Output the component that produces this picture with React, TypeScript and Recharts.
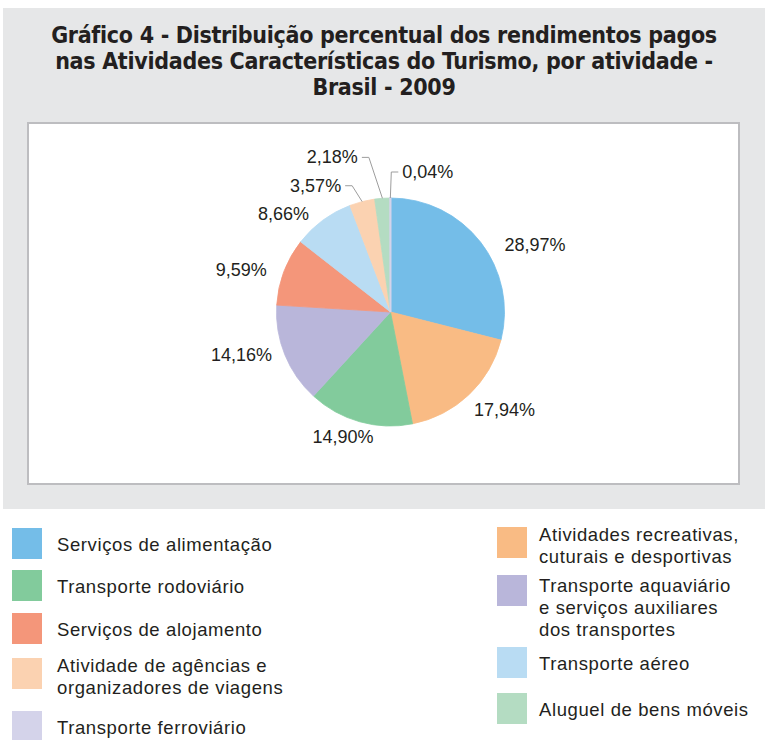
import { Cell, Pie, PieChart } from "recharts";

const categorias = [
  "Serviços de alimentação",
  "Atividades recreativas,\ncuturais e desportivas",
  "Transporte rodoviário",
  "Transporte aquaviário\ne serviços auxiliares\ndos transportes",
  "Serviços de alojamento",
  "Transporte aéreo",
  "Atividade de agências e\norganizadores de viagens",
  "Aluguel de bens móveis",
  "Transporte ferroviário",
];
const percentuais = [28.97, 17.94, 14.9, 14.16, 9.59, 8.66, 3.57, 2.18, 0.04];
const cores = ["#74bde8", "#f9bb84", "#82cb9c", "#b9b6da", "#f4967a", "#b9dcf3", "#fbd2b1", "#b4dcc2", "#d4d3ea"];
const tituloLinhas = [
  "Gráfico 4 - Distribuição percentual dos rendimentos pagos",
  "nas Atividades Características do Turismo, por atividade -",
  "Brasil - 2009",
];

// layout only: label nudges from the radial spot, legend item tops
const LABEL_SHIFT: [number, number][] = [
  [26, 25], [11, -11], [-7, -19], [-10, -13], [-9, 11], [-18, 23], [-1, 19], [-11, -5], [1, 10],
];
const LEGEND_TOP = [528, 527, 570, 575, 613, 647, 658, 693, 711];

const TEXT = "#231f20";
const FONT = '"Liberation Sans", Arial, sans-serif';
const RAD = Math.PI / 180;

const data = categorias.map((nome, i) => ({ nome, valor: percentuais[i] }));

const fmt = (v: number) => v.toFixed(2).replace(".", ",") + "%";

function renderLabel(props: any) {
  const { cx, cy, midAngle, outerRadius, index } = props;
  const v = percentuais[index];
  const cos = Math.cos(-midAngle * RAD);
  const sin = Math.sin(-midAngle * RAD);
  const r = outerRadius + 36;
  const [dx, dy] = LABEL_SHIFT[index];
  const x = cx + r * cos + dx;
  const y = cy + r * sin + dy;
  const style = { fontFamily: FONT, fontSize: 18, fill: TEXT };
  if (v >= 5) {
    return (
      <text key={index} x={x} y={y} textAnchor="middle" dominantBaseline="central" style={style}>
        {fmt(v)}
      </text>
    );
  }
  const sx = cx + outerRadius * cos;
  const sy = cy + outerRadius * sin;
  const side = x >= cx ? 1 : -1;
  const ex = x + side * 7;
  return (
    <g key={index}>
      <polyline points={`${sx},${sy} ${x},${y} ${ex},${y}`} fill="none" stroke="#9d9d9d" strokeWidth={1} />
      <text x={ex + side * 4} y={y} textAnchor={side > 0 ? "start" : "end"} dominantBaseline="central" style={style}>
        {fmt(v)}
      </text>
    </g>
  );
}

export default function App() {
  return (
    <div style={{ position: "absolute", left: 0, top: 0, width: 772, height: 740, background: "#fff", fontFamily: FONT, color: TEXT }}>
      <div style={{ position: "absolute", left: 3, top: 8, width: 762, height: 501, background: "#e6e7e8" }} />
      <div
        style={{
          position: "absolute",
          left: 3,
          top: 22,
          width: 762,
          textAlign: "center",
          fontFamily: '"Liberation Sans Narrow", "DejaVu Sans Condensed", Arial, sans-serif',
          fontStretch: "condensed",
          fontWeight: 700,
          fontSize: 23,
          letterSpacing: -0.3,
          lineHeight: "26px",
        }}
      >
        {tituloLinhas.map((l) => (
          <div key={l}>{l}</div>
        ))}
      </div>
      <div
        style={{
          position: "absolute",
          left: 27,
          top: 122,
          width: 713,
          height: 363,
          boxSizing: "border-box",
          background: "#fff",
          border: "2px solid #bdbdc0",
        }}
      />
      <div style={{ position: "absolute", left: 27, top: 122 }}>
        <PieChart width={713} height={363}>
          <Pie
            data={data}
            dataKey="valor"
            nameKey="nome"
            cx={358.5}
            cy={185}
            outerRadius={114}
            startAngle={90}
            endAngle={-270}
            label={renderLabel}
            labelLine={false}
            isAnimationActive={false}
          >
            {data.map((d, i) => (
              <Cell key={d.nome} fill={cores[i]} stroke={cores[i]} strokeWidth={i === data.length - 1 ? 2 : 0.8} />
            ))}
          </Pie>
        </PieChart>
      </div>
      {data.map((d, i) => {
        const left = i % 2 === 0 ? 12 : 497;
        const lines = d.nome.split("\n").length;
        return (
          <div key={d.nome} style={{ position: "absolute", left, top: LEGEND_TOP[i], display: "flex", alignItems: "flex-start" }}>
            <div style={{ width: 30, height: 31, background: cores[i], flex: "none" }} />
            <div
              style={{
                marginLeft: i % 2 === 0 ? 15 : 12,
                marginTop: lines === 1 ? 6 : lines === 2 ? -3 : 0,
                whiteSpace: "pre-line",
                fontSize: 18.5,
                letterSpacing: 0.6,
                lineHeight: "22px",
              }}
            >
              {d.nome}
            </div>
          </div>
        );
      })}
    </div>
  );
}
